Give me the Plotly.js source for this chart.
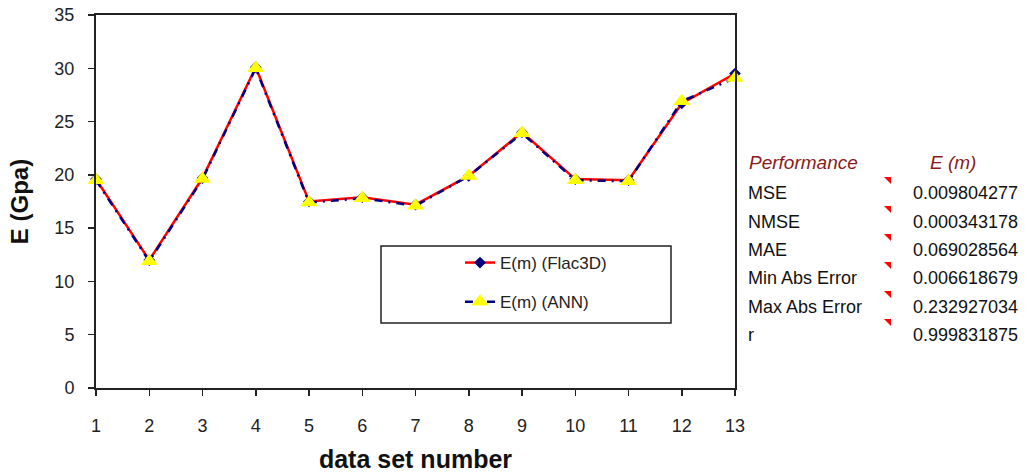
<!DOCTYPE html>
<html>
<head>
<meta charset="utf-8">
<script src="https://cdn.plot.ly/plotly-3.0.1.min.js"></script>
<style>html,body{margin:0;padding:0;background:#fff;}#chart{width:1025px;height:475px;}</style>
</head>
<body>
<div id="chart"></div>
<script>
// ---- data ----
const dataSets = [1,2,3,4,5,6,7,8,9,10,11,12,13];
const flac3d = [19.6,12.0,19.7,30.1,17.5,17.9,17.2,19.9,24.0,19.6,19.5,26.7,29.5];
const ann    = [19.5,11.9,19.6,30.0,17.4,17.8,17.1,19.9,23.9,19.5,19.4,26.9,29.1];
const perfLabels = ["MSE","NMSE","MAE","Min Abs Error","Max Abs Error","r"];
const perfValues = ["0.009804277","0.000343178","0.069028564","0.006618679","0.232927034","0.999831875"];
const perfHeader = "Performance";
const valueHeader = "E (m)";

// ---- layout helpers (pixel -> paper) ----
const W = 1025, H = 475;
const mL = 96, mR = 290, mT = 15, mB = 87;
const pw = W - mL - mR, ph = H - mT - mB;
const px = x => (x - mL) / pw;
const py = y => (H - mB - y) / ph;

const traces = [
  {
    x: dataSets, y: flac3d, name: "E(m) (Flac3D)", type: "scatter", mode: "lines+markers",
    line: {color: "#ff0000", width: 2.5},
    marker: {symbol: "diamond", color: "#000080", size: 9},
    legendgroup: "a", cliponaxis: false
  },
  {
    x: dataSets, y: ann, name: "E(m) (ANN)", type: "scatter", mode: "lines+markers",
    line: {color: "#000080", width: 2.5, dash: "8px,6px,2px,6px"},
    marker: {symbol: "triangle-up", color: "#ffff00", size: 15},
    legendgroup: "b", cliponaxis: false
  }
];

const annotations = [];
const rowFont = {family: "Liberation Sans Narrow, Arial Narrow, Liberation Sans, sans-serif", size: 18, color: "#111"};
annotations.push({xref: "paper", yref: "paper", x: px(747), y: py(162), xanchor: "left", yanchor: "middle",
  text: "<i>" + perfHeader + "</i>", showarrow: false,
  font: {family: "Liberation Sans, Arial, sans-serif", size: 19, color: "#8b1a1a"}});
annotations.push({xref: "paper", yref: "paper", x: px(953), y: py(162), xanchor: "center", yanchor: "middle",
  text: "<i>" + valueHeader + "</i>", showarrow: false,
  font: {family: "Liberation Sans, Arial, sans-serif", size: 19, color: "#8b1a1a"}});
const shapes = [];
const rowY = [193, 222, 250, 278, 307, 335];
perfLabels.forEach((lab, i) => {
  annotations.push({xref: "paper", yref: "paper", x: px(746), y: py(rowY[i]), xanchor: "left", yanchor: "middle",
    text: lab, showarrow: false, font: rowFont});
  annotations.push({xref: "paper", yref: "paper", x: px(1020), y: py(rowY[i]), xanchor: "right", yanchor: "middle",
    text: perfValues[i], showarrow: false, font: rowFont});
  const tx = px(884), ty = py(rowY[i] - 16);
  const dx = 7 / pw, dy = 7 / ph;
  shapes.push({type: "path", xref: "paper", yref: "paper",
    path: `M ${tx} ${ty} L ${tx + dx} ${ty} L ${tx + dx} ${ty - dy} Z`,
    fillcolor: "#ff0000", line: {width: 0}});
});

// legend frame
shapes.push({type: "rect", xref: "paper", yref: "paper", x0: px(381), x1: px(671), y0: py(323), y1: py(246),
  line: {color: "#222", width: 1.5}, fillcolor: "rgba(0,0,0,0)", layer: "above"});

const layout = {
  width: W, height: H,
  margin: {l: mL, r: mR, t: mT, b: mB, pad: 0},
  paper_bgcolor: "#fff", plot_bgcolor: "#fff",
  font: {family: "Liberation Sans, Arial, sans-serif", color: "#222"},
  showlegend: true,
  legend: {
    x: px(460), y: py(245), xanchor: "left", yanchor: "top",
    bgcolor: "rgba(255,255,255,0)", borderwidth: 0,
    font: {family: "Liberation Sans, Arial, sans-serif", size: 17, color: "#222"},
    traceorder: "grouped", tracegroupgap: 14
  },
  xaxis: {
    range: [1, 13], tickmode: "array", tickvals: dataSets, ticktext: dataSets.map(String),
    showgrid: false, zeroline: false,
    showline: true, linecolor: "#222", linewidth: 2, mirror: true,
    ticks: "outside", ticklen: 6, tickcolor: "#222", tickwidth: 1.5,
    ticklabelstandoff: 14,
    tickfont: {family: "Liberation Sans, Arial, sans-serif", size: 18, color: "#222"},
    title: {text: "<b>data set number</b>", standoff: 16,
      font: {family: "Liberation Sans, Arial, sans-serif", size: 25, color: "#111"}}
  },
  yaxis: {
    range: [0, 35], tickmode: "linear", tick0: 0, dtick: 5,
    showgrid: false, zeroline: false,
    showline: true, linecolor: "#222", linewidth: 2, mirror: true,
    ticks: "outside", ticklen: 6, tickcolor: "#222", tickwidth: 1.5,
    ticklabelstandoff: 10,
    tickfont: {family: "Liberation Sans, Arial, sans-serif", size: 18, color: "#222"},
    title: {text: "<b>E (Gpa)</b>", standoff: 19,
      font: {family: "Liberation Sans, Arial, sans-serif", size: 24, color: "#111"}}
  },
  annotations: annotations,
  shapes: shapes
};

Plotly.newPlot("chart", traces, layout, {displayModeBar: false, staticPlot: true});
</script>
</body>
</html>
